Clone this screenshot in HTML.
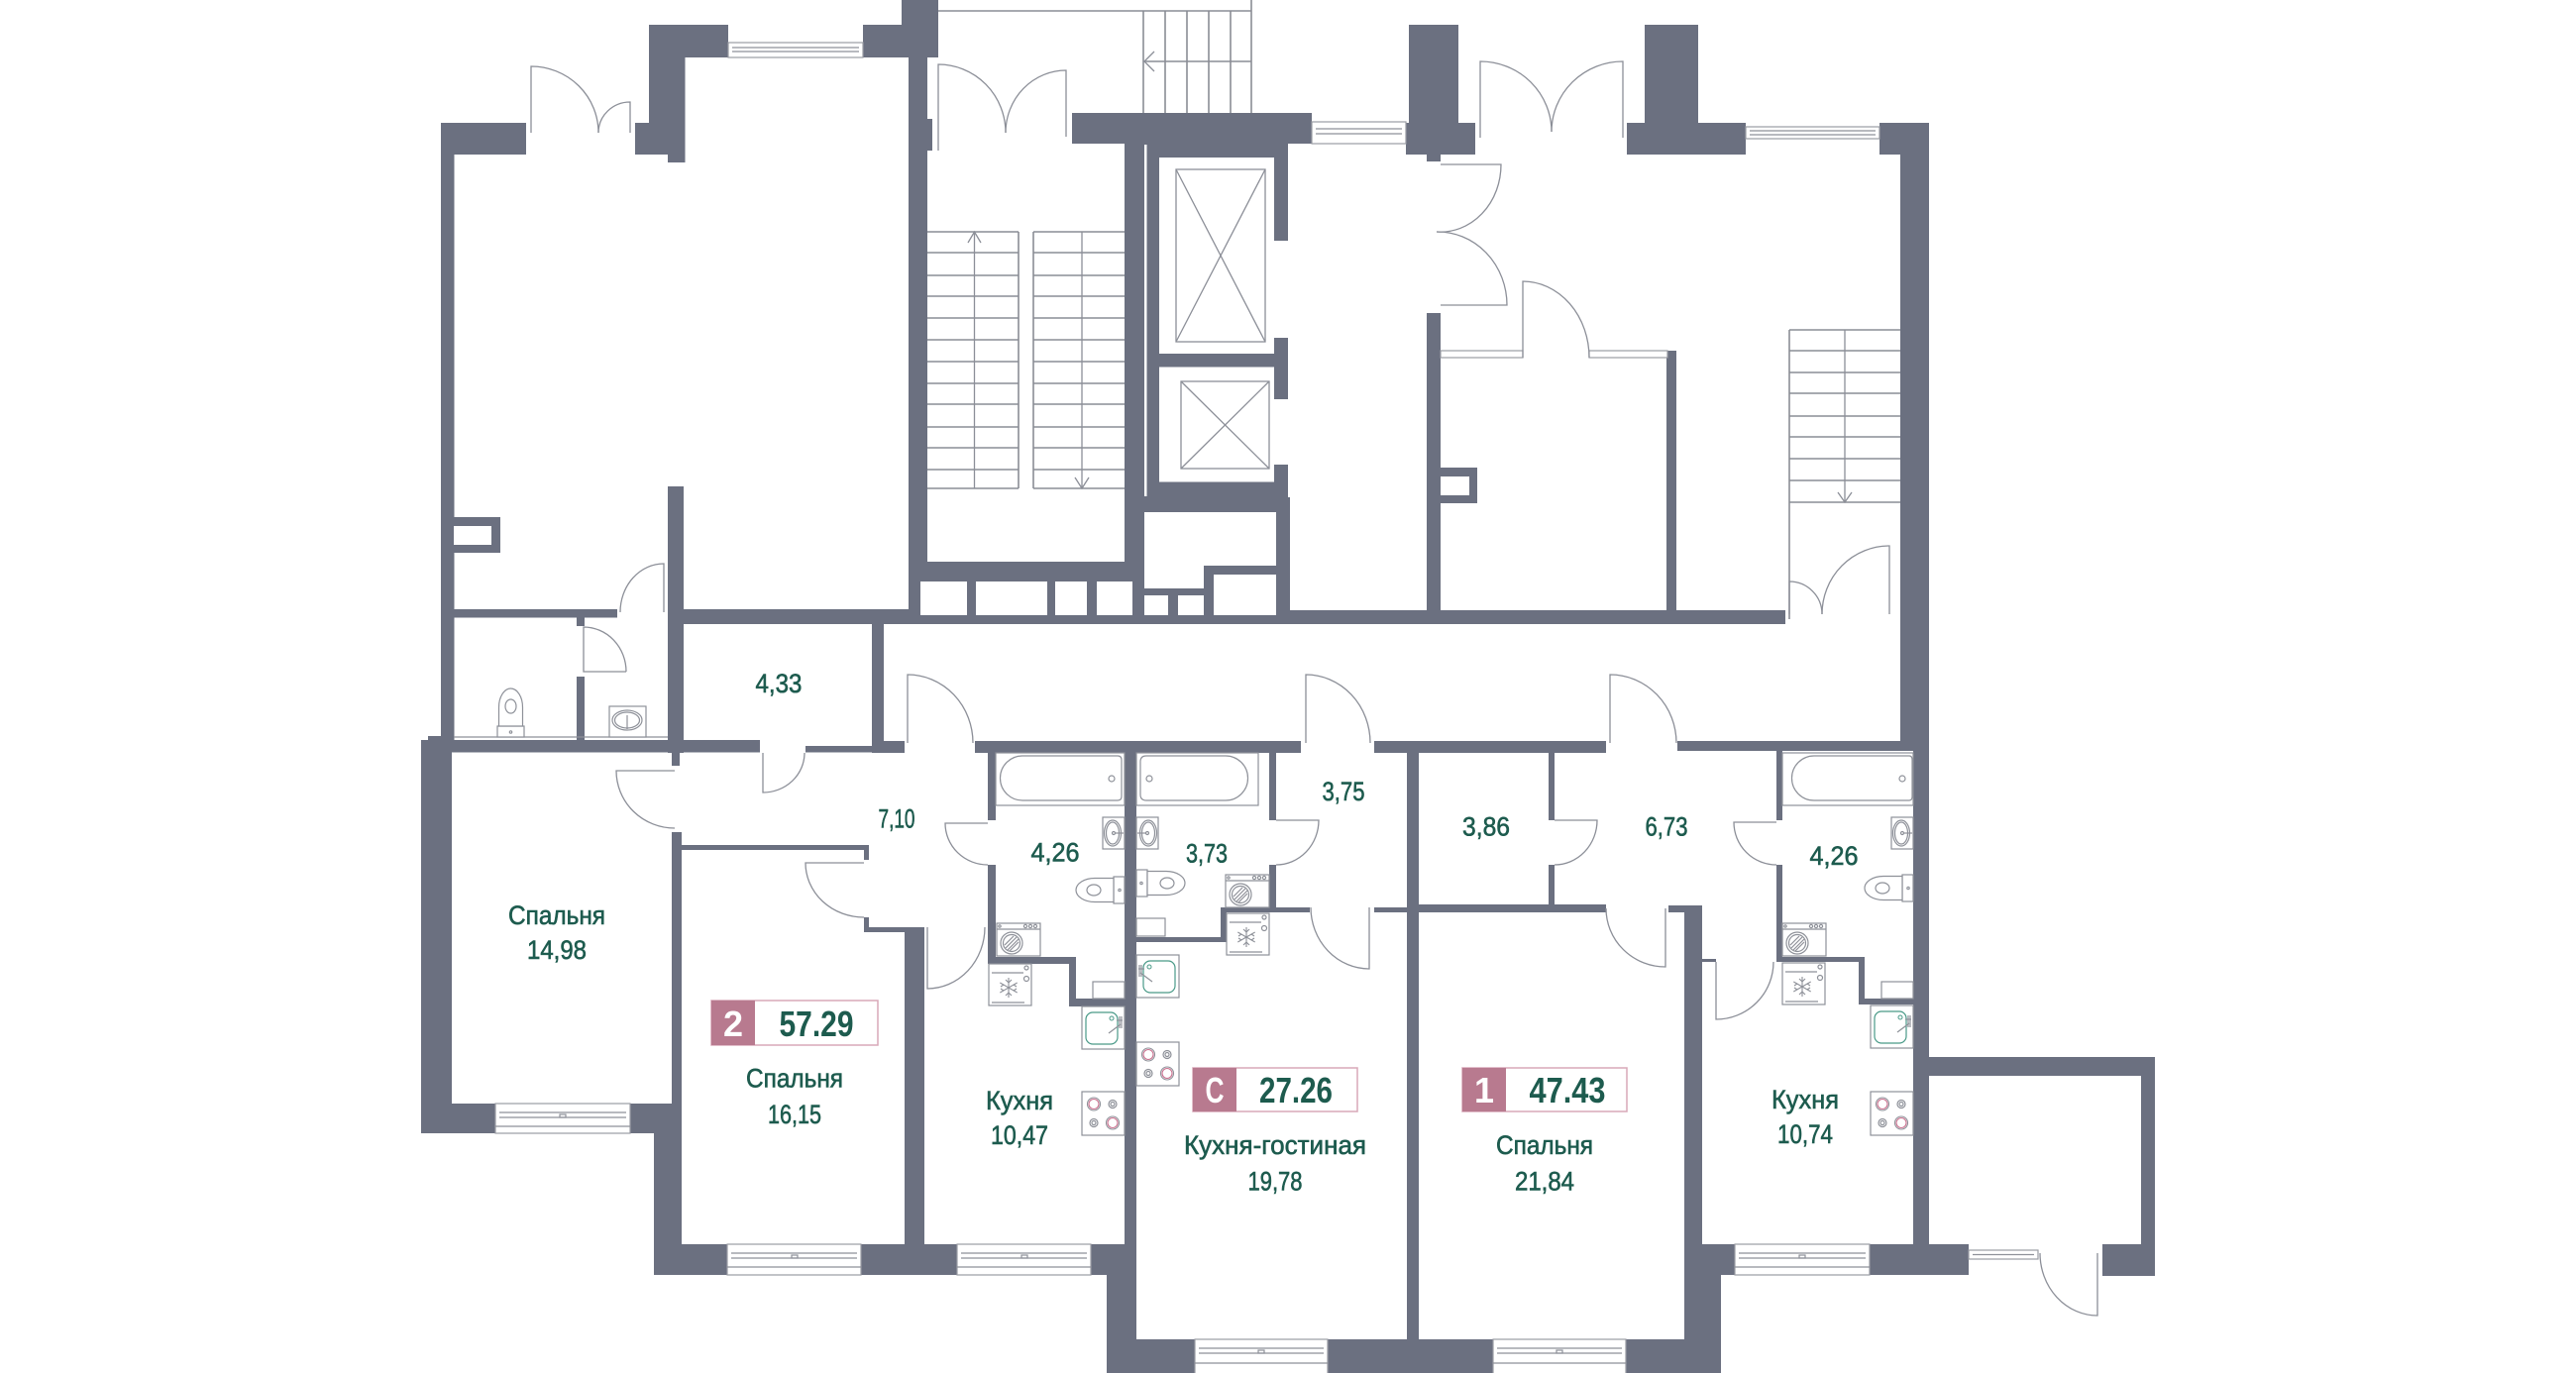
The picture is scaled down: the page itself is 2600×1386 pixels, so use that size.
<!DOCTYPE html>
<html><head><meta charset="utf-8"><style>
html,body{margin:0;padding:0;background:#fff;}
svg{display:block;}
text{font-family:"Liberation Sans",sans-serif;}
.ln{stroke:#8c8f98;stroke-width:1.3;fill:none;}
.st{stroke:#8a8d95;stroke-width:1.6;fill:none;}
.fx{stroke:#8e9199;stroke-width:1.2;fill:#fff;}
.fn{stroke:#8e9199;stroke-width:1.2;fill:none;}
.wn{stroke:#9a9ca4;stroke-width:1.2;fill:#fff;}
.lb{fill:#1d5b4e;font-size:27px;stroke:#1d5b4e;stroke-width:0.6;}
.pn{fill:#1d5b4e;font-size:36px;font-weight:bold;}
.pw{fill:#fff;font-size:36px;font-weight:bold;}
</style></head><body>
<svg width="2600" height="1386" viewBox="0 0 2600 1386" xmlns="http://www.w3.org/2000/svg">
<defs>
<g id="snow" stroke="#8e9199" stroke-width="1.1" fill="none"><line x1="0" y1="-10" x2="0" y2="10"/><line x1="-8.7" y1="-5" x2="8.7" y2="5"/><line x1="-8.7" y1="5" x2="8.7" y2="-5"/><path d="M-3,-8 L0,-5 L3,-8 M-3,8 L0,5 L3,8 M-8,-1 L-5,-3 M8,1 L5,3 M-8,1 L-5,3 M8,-1 L5,-3"/></g>
<g id="wash"><rect class="fx" x="0" y="0" width="44" height="33"/><line class="fn" x1="0" y1="6" x2="44" y2="6"/><circle class="fn" cx="29" cy="3" r="1.6"/><circle class="fn" cx="34" cy="3" r="1.6"/><circle class="fn" cx="39" cy="3" r="1.6"/><circle class="fn" cx="3" cy="3" r="1.2"/><circle class="fn" cx="15" cy="20" r="11"/><circle class="fn" cx="15" cy="20" r="8.5"/><line class="fn" x1="9" y1="25" x2="20" y2="14"/><line class="fn" x1="11" y1="27" x2="22" y2="16"/><line class="fn" x1="8" y1="22" x2="17" y2="13"/><line class="fn" x1="13" y1="28" x2="22" y2="19"/></g>
<g id="fridge"><rect class="fx" x="0" y="0" width="43" height="42"/><line class="fn" x1="3" y1="9" x2="35" y2="9"/><circle class="fn" cx="38" cy="4" r="2"/><circle class="fn" cx="38" cy="15" r="2.5"/><line class="fn" x1="3" y1="39" x2="36" y2="39"/><use href="#snow" x="20" y="24"/></g>
<g id="stove"><rect class="fx" x="0" y="0" width="43" height="44"/><circle cx="12" cy="12.5" r="6.5" fill="none" stroke="#8e9199" stroke-width="1.1"/><circle cx="12" cy="12.5" r="5" fill="none" stroke="#c9708e" stroke-width="1.1"/><circle cx="31" cy="31.5" r="6.5" fill="none" stroke="#8e9199" stroke-width="1.1"/><circle cx="31" cy="31.5" r="5" fill="none" stroke="#c9708e" stroke-width="1.1"/><circle class="fn" cx="31" cy="12.5" r="4"/><circle class="fn" cx="31" cy="12.5" r="2"/><circle class="fn" cx="12" cy="31.5" r="4"/><circle class="fn" cx="12" cy="31.5" r="2"/></g>
<g id="ksink"><rect class="fx" x="0" y="0" width="43" height="43"/><rect x="7" y="6" width="32" height="32" rx="7" fill="none" stroke="#4a9a88" stroke-width="1.2"/><circle cx="13" cy="12" r="2" fill="none" stroke="#4a9a88" stroke-width="1"/><line class="fn" x1="3" y1="10" x2="3" y2="22"/><line class="fn" x1="5" y1="10" x2="5" y2="22"/><line class="fn" x1="2" y1="14" x2="8" y2="14"/><line class="fn" x1="4" y1="18" x2="16" y2="27"/></g>
<g id="toilet"><rect class="fx" x="0" y="0" width="11" height="27"/><circle class="fn" cx="5" cy="13.5" r="1.2"/><path class="fx" d="M11,1.5 H30 A19,12 0 0 1 30,25.5 H11 Z"/><ellipse class="fn" cx="31" cy="13.5" rx="7" ry="5.5"/></g>
<g id="wsink"><rect class="fx" x="0" y="0" width="22" height="32"/><ellipse class="fn" cx="12" cy="16" rx="8.5" ry="13"/><ellipse class="fn" cx="12" cy="16" rx="6.5" ry="11"/><line class="fn" x1="1" y1="16" x2="10" y2="16"/><circle class="fn" cx="11" cy="16" r="1.5"/></g>
</defs>

<g fill="#6b7080">
<rect x="445" y="124" width="86" height="32"/>
<rect x="445" y="124" width="13.5" height="624"/>
<polygon points="655,25 735,25 735,58 691.5,58 691.5,164 674,164 674,156 641,156 641,124 655,124"/>
<polygon points="910,0 947,0 947,58 936,58 936,628 917,628 917,58 871,58 871,25 910,25"/>
<rect x="936" y="120" width="5" height="32"/>
<rect x="674" y="491" width="16" height="269"/>
<rect x="458" y="522" width="47" height="36"/>
<rect x="458" y="615" width="165" height="8.5"/>
<rect x="582" y="615" width="8" height="17"/>
<rect x="582" y="683" width="8" height="65"/>
<rect x="690" y="615" width="227" height="15"/>
<rect x="917" y="567" width="238" height="63"/>
<rect x="1135" y="145" width="20" height="422"/>
<rect x="1082" y="114" width="242" height="31"/>
<rect x="1155" y="145" width="145" height="357"/>
<rect x="1135" y="502" width="167" height="128"/>
<rect x="1299" y="616" width="503" height="14"/>
<rect x="1440" y="316" width="14" height="314"/>
<rect x="1454" y="472" width="37" height="36"/>
<rect x="1682" y="354" width="10" height="266"/>
<rect x="1422" y="25" width="50" height="99"/>
<rect x="1419" y="124" width="70" height="32"/>
<rect x="1440" y="156" width="14" height="7"/>
<rect x="1660" y="25" width="54" height="99"/>
<rect x="1642" y="124" width="120" height="32"/>
<rect x="1897" y="124" width="50" height="32"/>
<rect x="1918" y="124" width="29" height="634"/>
<rect x="1931" y="758" width="16" height="498"/>
<rect x="425" y="747" width="342" height="12.5"/>
<rect x="880" y="630" width="12" height="130"/>
<rect x="813" y="753" width="67" height="6.5"/>
<rect x="880" y="748" width="33" height="12"/>
<rect x="984" y="748" width="329" height="12"/>
<rect x="1387" y="748" width="234" height="12"/>
<rect x="1693" y="748" width="227" height="10"/>
<rect x="432" y="743" width="24" height="10"/>
<rect x="425" y="750" width="31" height="394"/>
<rect x="425" y="1114" width="75" height="30"/>
<rect x="636" y="1114" width="52" height="30"/>
<rect x="660" y="1114" width="28" height="173"/>
<rect x="678" y="840" width="10" height="274"/>
<rect x="678" y="759" width="8" height="14"/>
<rect x="688" y="853" width="189" height="5"/>
<rect x="872" y="853" width="5" height="15"/>
<rect x="872" y="926" width="5" height="10"/>
<rect x="872" y="936" width="41" height="5"/>
<rect x="913" y="936" width="20" height="351"/>
<rect x="660" y="1256" width="74" height="31"/>
<rect x="869" y="1256" width="97" height="31"/>
<rect x="1101" y="1256" width="16" height="31"/>
<rect x="1117" y="1256" width="30" height="130"/>
<rect x="997" y="759" width="8" height="69"/>
<rect x="997" y="873" width="8" height="98"/>
<rect x="997" y="966" width="87" height="7"/>
<rect x="1079" y="966" width="7" height="50"/>
<rect x="1079" y="1008" width="56" height="8"/>
<rect x="1135" y="759" width="12" height="627"/>
<rect x="1281" y="759" width="7" height="69"/>
<rect x="1281" y="873" width="7" height="43"/>
<rect x="1232" y="916" width="90" height="5"/>
<rect x="1232" y="916" width="6" height="35"/>
<rect x="1147" y="946" width="91" height="5"/>
<rect x="1387" y="916" width="33" height="5"/>
<rect x="1420" y="759" width="12" height="627"/>
<rect x="1563" y="759" width="6" height="69"/>
<rect x="1563" y="873" width="6" height="41"/>
<rect x="1432" y="913" width="189" height="8"/>
<rect x="1684" y="914" width="16" height="7"/>
<rect x="1700" y="914" width="18" height="342"/>
<rect x="1700" y="1256" width="51" height="31"/>
<rect x="1700" y="1287" width="37" height="99"/>
<rect x="1718" y="968" width="14" height="3"/>
<rect x="1793" y="758" width="6" height="70"/>
<rect x="1793" y="873" width="6" height="98"/>
<rect x="1793" y="966" width="87" height="5"/>
<rect x="1876" y="966" width="6" height="48"/>
<rect x="1876" y="1008" width="55" height="6"/>
<rect x="1887" y="1256" width="100" height="31"/>
<rect x="1946" y="1067" width="229" height="19"/>
<rect x="2161" y="1067" width="14" height="221"/>
<rect x="2122" y="1256" width="53" height="32"/>
<rect x="1117" y="1352" width="89" height="34"/>
<rect x="1340" y="1352" width="167" height="34"/>
<rect x="1641" y="1352" width="96" height="34"/>
</g>

<g fill="#fff">
<rect x="458" y="531" width="38" height="19"/>
<rect x="929" y="587" width="47" height="34"/>
<rect x="985" y="587" width="72" height="34"/>
<rect x="1065" y="587" width="32" height="34"/>
<rect x="1107" y="587" width="36" height="34"/>
<rect x="1155" y="146" width="2.5" height="355"/>
<rect x="1170" y="159" width="116" height="198"/>
<rect x="1285" y="243" width="16" height="98"/>
<rect x="1170" y="370.5" width="116" height="116"/>
<rect x="1285" y="403" width="16" height="66"/>
<polygon points="1155,517 1288,517 1288,571 1215,571 1215,594 1155,594"/>
<rect x="1155" y="601" width="24" height="20"/>
<rect x="1189" y="601" width="26" height="20"/>
<rect x="1225" y="580" width="63" height="41"/>
<rect x="1454" y="481" width="29" height="19"/>
</g>

<g class="ln">
<rect x="1187" y="171" width="90" height="174"/>
<line x1="1187" y1="171" x2="1277" y2="345"/><line x1="1277" y1="171" x2="1187" y2="345"/>
<rect x="1192" y="385" width="89" height="88"/>
<line x1="1192" y1="385" x2="1281" y2="473"/><line x1="1281" y1="385" x2="1192" y2="473"/>
</g>

<g class="st">
<path d="M936,234H1028M936,255H1028M936,278H1028M936,299H1028M936,321H1028M936,343H1028M936,365H1028M936,387H1028M936,408H1028M936,431H1028M936,452H1028M936,474H1028M936,493H1028"/>
<path d="M1043,234H1135M1043,255H1135M1043,278H1135M1043,299H1135M1043,321H1135M1043,343H1135M1043,365H1135M1043,387H1135M1043,408H1135M1043,431H1135M1043,452H1135M1043,474H1135M1043,493H1135"/>
<path d="M1028,234V493M1043,234V493"/>
</g>
<g class="ln">
<path d="M983.5,234V493M977,245L983.5,234L990,245"/>
<path d="M1092,234V493M1085,482L1092,493L1099,482"/>
</g>
<g class="st">
<path d="M947,11H1263M1263,0V114M1154,11V114M1176,11V114M1198,11V114M1220,11V114M1242,11V114M1154,62H1263"/>
</g>
<path class="ln" d="M1165,52L1155,62L1165,72"/>
<g class="st">
<path d="M1806,333H1918M1806,354H1918M1806,376H1918M1806,397H1918M1806,420H1918M1806,441H1918M1806,463H1918M1806,485H1918M1806,507H1918"/>
<path d="M1806,333V625"/>
</g>
<path class="ln" d="M1862,333V507M1855,497L1862,507L1869,497"/>

<g>
<rect class="wn" x="735" y="43" width="136" height="15"/><line class="fn" x1="739" y1="48" x2="867" y2="48"/><line class="fn" x1="739" y1="52" x2="867" y2="52"/>
<rect class="wn" x="1324" y="123" width="95" height="22"/><line class="fn" x1="1328" y1="130" x2="1415" y2="130"/><line class="fn" x1="1328" y1="135" x2="1415" y2="135"/>
<rect class="wn" x="1762" y="128" width="135" height="12"/><line class="fn" x1="1766" y1="132" x2="1893" y2="132"/><line class="fn" x1="1766" y1="136" x2="1893" y2="136"/>
<rect class="wn" x="1987" y="1262" width="70" height="9"/><line class="fn" x1="1991" y1="1266.5" x2="2053" y2="1266.5"/>
</g>
<g>
<rect class="wn" x="500" y="1114" width="136" height="30"/><line class="fn" x1="504" y1="1123" x2="632" y2="1123"/><line class="fn" x1="504" y1="1128" x2="632" y2="1128"/><line class="fn" x1="500" y1="1137" x2="636" y2="1137"/><rect class="fn" x="565" y="1125" width="6" height="3"/>
<rect class="wn" x="734" y="1256" width="135" height="31"/><line class="fn" x1="738" y1="1265" x2="865" y2="1265"/><line class="fn" x1="738" y1="1270" x2="865" y2="1270"/><line class="fn" x1="734" y1="1279" x2="869" y2="1279"/><rect class="fn" x="799" y="1267" width="6" height="3"/>
<rect class="wn" x="966" y="1256" width="135" height="31"/><line class="fn" x1="970" y1="1265" x2="1097" y2="1265"/><line class="fn" x1="970" y1="1270" x2="1097" y2="1270"/><line class="fn" x1="966" y1="1279" x2="1101" y2="1279"/><rect class="fn" x="1031" y="1267" width="6" height="3"/>
<rect class="wn" x="1751" y="1256" width="136" height="31"/><line class="fn" x1="1755" y1="1265" x2="1883" y2="1265"/><line class="fn" x1="1755" y1="1270" x2="1883" y2="1270"/><line class="fn" x1="1751" y1="1279" x2="1887" y2="1279"/><rect class="fn" x="1816" y="1267" width="6" height="3"/>
<rect class="wn" x="1206" y="1352" width="134" height="36"/><line class="fn" x1="1210" y1="1361" x2="1336" y2="1361"/><line class="fn" x1="1210" y1="1366" x2="1336" y2="1366"/><line class="fn" x1="1206" y1="1376" x2="1340" y2="1376"/><rect class="fn" x="1270" y="1363" width="6" height="3"/>
<rect class="wn" x="1507" y="1352" width="134" height="36"/><line class="fn" x1="1511" y1="1361" x2="1637" y2="1361"/><line class="fn" x1="1511" y1="1366" x2="1637" y2="1366"/><line class="fn" x1="1507" y1="1376" x2="1641" y2="1376"/><rect class="fn" x="1571" y="1363" width="6" height="3"/>
</g>
<rect class="wn" x="1454" y="354" width="83" height="7"/>
<rect class="wn" x="1604" y="354" width="79" height="7"/>

<g class="ln">
<path d="M536,134V67 A68,67 0 0 1 604,134"/>
<path d="M636,134V103 A32,31 0 0 0 604,134"/>
<path d="M947,152V65 A68,69 0 0 1 1015,134"/>
<path d="M1076,138V71 A61,63 0 0 0 1015,134"/>
<path d="M1494,139V62 A72,71 0 0 1 1566,133"/>
<path d="M1638,139V62 A72,71 0 0 0 1566,133"/>
<path d="M1454,166H1515 A61,68 0 0 1 1450,234"/>
<path d="M1454,308H1521 A70,74 0 0 0 1450,234"/>
<path d="M1537,361V284 A67,77 0 0 1 1604,361"/>
<path d="M1806,620V587 A33,33 0 0 1 1839,620"/>
<path d="M1907,620V551 A68,69 0 0 0 1839,620"/>
<path d="M670,618V569 A44,49 0 0 0 626,618"/>
<path d="M632,678H589V633 A43,45 0 0 1 632,678"/>
<path d="M770,760V800 A42,40 0 0 0 812,760"/>
<path d="M916,750V681 A66,69 0 0 1 982,750"/>
<path d="M681,778H622 A59,58 0 0 0 681,836"/>
<path d="M872,871H813 A59,55 0 0 0 872,926"/>
<path d="M936,936V998 A58,62 0 0 0 994,936"/>
<path d="M997,831H954 A43,42 0 0 0 997,873"/>
<path d="M1318,750V681 A65,69 0 0 1 1383,750"/>
<path d="M1288,828H1331 A43,45 0 0 1 1288,873"/>
<path d="M1382,916V978 A59,62 0 0 1 1323,916"/>
<path d="M1625,750V681 A67,69 0 0 1 1692,750"/>
<path d="M1569,828H1612 A43,45 0 0 1 1569,873"/>
<path d="M1681,917V976 A60,59 0 0 1 1621,917"/>
<path d="M1793,830H1750 A43,43 0 0 0 1793,873"/>
<path d="M1732,971V1029 A58,58 0 0 0 1790,971"/>
<path d="M2117,1265V1328 A58,63 0 0 1 2059,1265"/>
</g>

<line class="fn" x1="458" y1="744" x2="674" y2="744"/>
<use href="#toilet" transform="translate(502,744) rotate(-90)"/>
<rect class="fx" x="615" y="713" width="37" height="31"/>
<ellipse class="fn" cx="633" cy="727" rx="15" ry="10"/>
<ellipse class="fn" cx="633" cy="727" rx="12.5" ry="8"/>
<line class="fn" x1="633" y1="722" x2="633" y2="736"/>

<rect class="fx" x="1005" y="760" width="130" height="53"/>
<path class="fn" d="M1128,763 H1032 A22.5,22.5 0 0 0 1032,808 H1128 Q1132,808 1132,804 V767 Q1132,763 1128,763 Z"/>
<circle class="fn" cx="1122" cy="786" r="3"/>
<use href="#wsink" transform="translate(1135,825) scale(-1,1)"/>
<use href="#toilet" transform="translate(1135,885) scale(-1,1)"/>
<use href="#wash" transform="translate(1006,932)"/>
<use href="#fridge" transform="translate(998,973)"/>
<rect class="fx" x="1103" y="991" width="32" height="17"/>
<use href="#ksink" transform="translate(1135,1016) scale(-1,1)"/>
<use href="#stove" transform="translate(1092,1102)"/>

<rect class="fx" x="1147" y="760" width="123" height="53"/>
<path class="fn" d="M1157,763 H1237 A22.5,22.5 0 0 1 1237,808 H1157 Q1151,808 1151,802 V769 Q1151,763 1157,763 Z"/>
<circle class="fn" cx="1160" cy="786" r="3"/>
<use href="#wsink" transform="translate(1147,825)"/>
<use href="#toilet" transform="translate(1147,878)"/>
<use href="#wash" transform="translate(1237,883)"/>
<rect class="fx" x="1147" y="927" width="29" height="18"/>
<use href="#fridge" transform="translate(1238,922)"/>
<use href="#ksink" transform="translate(1147,964)"/>
<use href="#stove" transform="translate(1147,1052)"/>

<rect class="fx" x="1799" y="760" width="132" height="53"/>
<path class="fn" d="M1927,763 H1831 A22.5,22.5 0 0 0 1831,808 H1927 Q1930,808 1930,804 V767 Q1930,763 1927,763 Z"/>
<circle class="fn" cx="1920" cy="786" r="3"/>
<use href="#wsink" transform="translate(1931,825) scale(-1,1)"/>
<use href="#toilet" transform="translate(1931,883) scale(-1,1)"/>
<use href="#wash" transform="translate(1799,932)"/>
<use href="#fridge" transform="translate(1799,972)"/>
<rect class="fx" x="1899" y="991" width="32" height="17"/>
<use href="#ksink" transform="translate(1931,1015) scale(-1,1)"/>
<use href="#stove" transform="translate(1888,1102)"/>

<rect x="718" y="1010" width="168" height="45" fill="#fff" stroke="#d8a9b8" stroke-width="1.5"/>
<rect x="718" y="1010" width="44" height="45" fill="#b87a8f"/>
<text class="pw" x="740" y="1046" text-anchor="middle">2</text>
<text class="pn" x="824" y="1046" text-anchor="middle" textLength="75" lengthAdjust="spacingAndGlyphs">57.29</text>

<rect x="1204" y="1078" width="166" height="44" fill="#fff" stroke="#d8a9b8" stroke-width="1.5"/>
<rect x="1204" y="1078" width="44" height="44" fill="#b87a8f"/>
<text class="pw" x="1226" y="1113" text-anchor="middle" textLength="19" lengthAdjust="spacingAndGlyphs">С</text>
<text class="pn" x="1308" y="1113" text-anchor="middle" textLength="74" lengthAdjust="spacingAndGlyphs">27.26</text>

<rect x="1476" y="1078" width="166" height="44" fill="#fff" stroke="#d8a9b8" stroke-width="1.5"/>
<rect x="1476" y="1078" width="44" height="44" fill="#b87a8f"/>
<text class="pw" x="1498" y="1113" text-anchor="middle">1</text>
<text class="pn" x="1582" y="1113" text-anchor="middle" textLength="77" lengthAdjust="spacingAndGlyphs">47.43</text>

<g class="lb" text-anchor="middle">
<text x="786" y="699" textLength="47" lengthAdjust="spacingAndGlyphs">4,33</text>
<text x="562" y="933" textLength="98" lengthAdjust="spacingAndGlyphs">Спальня</text>
<text x="562" y="968" textLength="60" lengthAdjust="spacingAndGlyphs">14,98</text>
<text x="905" y="835.5" textLength="37" lengthAdjust="spacingAndGlyphs">7,10</text>
<text x="1065" y="869.5" textLength="49" lengthAdjust="spacingAndGlyphs">4,26</text>
<text x="802" y="1097.5" textLength="98" lengthAdjust="spacingAndGlyphs">Спальня</text>
<text x="802" y="1134" textLength="54" lengthAdjust="spacingAndGlyphs">16,15</text>
<text x="1029" y="1120" textLength="68" lengthAdjust="spacingAndGlyphs">Кухня</text>
<text x="1029" y="1155" textLength="58" lengthAdjust="spacingAndGlyphs">10,47</text>
<text x="1218" y="870.5" textLength="42" lengthAdjust="spacingAndGlyphs">3,73</text>
<text x="1356" y="808" textLength="43" lengthAdjust="spacingAndGlyphs">3,75</text>
<text x="1500" y="843.5" textLength="48" lengthAdjust="spacingAndGlyphs">3,86</text>
<text x="1682" y="843.5" textLength="43" lengthAdjust="spacingAndGlyphs">6,73</text>
<text x="1851" y="873" textLength="49" lengthAdjust="spacingAndGlyphs">4,26</text>
<text x="1287" y="1165" textLength="184" lengthAdjust="spacingAndGlyphs">Кухня-гостиная</text>
<text x="1287" y="1201.5" textLength="55" lengthAdjust="spacingAndGlyphs">19,78</text>
<text x="1559" y="1165" textLength="98" lengthAdjust="spacingAndGlyphs">Спальня</text>
<text x="1559" y="1201.5" textLength="60" lengthAdjust="spacingAndGlyphs">21,84</text>
<text x="1822" y="1119" textLength="68" lengthAdjust="spacingAndGlyphs">Кухня</text>
<text x="1822" y="1154" textLength="56" lengthAdjust="spacingAndGlyphs">10,74</text>
</g>
</svg>
</body></html>
